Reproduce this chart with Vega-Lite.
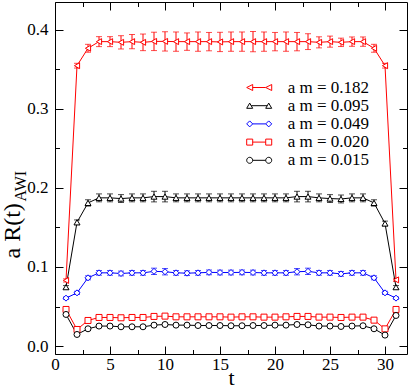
{
"$schema": "https://vega.github.io/schema/vega-lite/v6.json",
"width": 352, "height": 352,
"autosize": {"type": "none"},
"padding": {"left": 55, "top": 2, "right": 2, "bottom": 35},
"background": "white",
"config": {
  "view": {"stroke": null},
  "font": "Times New Roman",
  "axis": {"domainColor": "black", "tickColor": "black", "labelColor": "black", "titleColor": "black", "grid": false,
           "labelFont": "Times New Roman", "titleFont": "Times New Roman", "titleFontWeight": "normal",
           "domainWidth": 1, "tickWidth": 1, "labelFlush": false, "labelOverlap": false, "labelBound": false}
},
"data": {"values": [
{"am":"0.182","t":1,"v":0.083,"e":0.002},{"am":"0.182","t":2,"v":0.3545,"e":0.003},{"am":"0.182","t":3,"v":0.3765,"e":0.005},{"am":"0.182","t":4,"v":0.3849,"e":0.0063},{"am":"0.182","t":5,"v":0.3849,"e":0.0063},{"am":"0.182","t":6,"v":0.384,"e":0.0084},{"am":"0.182","t":7,"v":0.3849,"e":0.009},{"am":"0.182","t":8,"v":0.384,"e":0.0105},{"am":"0.182","t":9,"v":0.3852,"e":0.0116},{"am":"0.182","t":10,"v":0.3852,"e":0.0122},{"am":"0.182","t":11,"v":0.3849,"e":0.0122},{"am":"0.182","t":12,"v":0.3849,"e":0.011},{"am":"0.182","t":13,"v":0.3849,"e":0.0122},{"am":"0.182","t":14,"v":0.3849,"e":0.0116},{"am":"0.182","t":15,"v":0.3845,"e":0.0122},{"am":"0.182","t":16,"v":0.3849,"e":0.0122},{"am":"0.182","t":17,"v":0.3849,"e":0.0122},{"am":"0.182","t":18,"v":0.3849,"e":0.0128},{"am":"0.182","t":19,"v":0.3849,"e":0.0122},{"am":"0.182","t":20,"v":0.3849,"e":0.0116},{"am":"0.182","t":21,"v":0.3849,"e":0.0122},{"am":"0.182","t":22,"v":0.3849,"e":0.0116},{"am":"0.182","t":23,"v":0.3849,"e":0.01},{"am":"0.182","t":24,"v":0.384,"e":0.007},{"am":"0.182","t":25,"v":0.3849,"e":0.007},{"am":"0.182","t":26,"v":0.384,"e":0.0053},{"am":"0.182","t":27,"v":0.3849,"e":0.0059},{"am":"0.182","t":28,"v":0.3849,"e":0.0059},{"am":"0.182","t":29,"v":0.3765,"e":0.005},{"am":"0.182","t":30,"v":0.3545,"e":0.003},{"am":"0.182","t":31,"v":0.0837,"e":0.002},
{"am":"0.095","t":1,"v":0.0745,"e":0.002},{"am":"0.095","t":2,"v":0.1565,"e":0.003},{"am":"0.095","t":3,"v":0.181,"e":0.004},{"am":"0.095","t":4,"v":0.1874,"e":0.005},{"am":"0.095","t":5,"v":0.1874,"e":0.005},{"am":"0.095","t":6,"v":0.1865,"e":0.005},{"am":"0.095","t":7,"v":0.1874,"e":0.005},{"am":"0.095","t":8,"v":0.1874,"e":0.005},{"am":"0.095","t":9,"v":0.189,"e":0.0067},{"am":"0.095","t":10,"v":0.189,"e":0.0067},{"am":"0.095","t":11,"v":0.1874,"e":0.005},{"am":"0.095","t":12,"v":0.1874,"e":0.005},{"am":"0.095","t":13,"v":0.1874,"e":0.005},{"am":"0.095","t":14,"v":0.1874,"e":0.005},{"am":"0.095","t":15,"v":0.1874,"e":0.005},{"am":"0.095","t":16,"v":0.1874,"e":0.005},{"am":"0.095","t":17,"v":0.1874,"e":0.005},{"am":"0.095","t":18,"v":0.1874,"e":0.005},{"am":"0.095","t":19,"v":0.1874,"e":0.005},{"am":"0.095","t":20,"v":0.1874,"e":0.005},{"am":"0.095","t":21,"v":0.1874,"e":0.005},{"am":"0.095","t":22,"v":0.189,"e":0.0067},{"am":"0.095","t":23,"v":0.189,"e":0.0067},{"am":"0.095","t":24,"v":0.1874,"e":0.005},{"am":"0.095","t":25,"v":0.1865,"e":0.005},{"am":"0.095","t":26,"v":0.186,"e":0.005},{"am":"0.095","t":27,"v":0.1874,"e":0.005},{"am":"0.095","t":28,"v":0.1874,"e":0.005},{"am":"0.095","t":29,"v":0.181,"e":0.004},{"am":"0.095","t":30,"v":0.155,"e":0.003},{"am":"0.095","t":31,"v":0.0745,"e":0.002},
{"am":"0.049","t":1,"v":0.0606,"e":0.0015},{"am":"0.049","t":2,"v":0.0673,"e":0.002},{"am":"0.049","t":3,"v":0.0863,"e":0.0025},{"am":"0.049","t":4,"v":0.0926,"e":0.003},{"am":"0.049","t":5,"v":0.0926,"e":0.003},{"am":"0.049","t":6,"v":0.0918,"e":0.003},{"am":"0.049","t":7,"v":0.0926,"e":0.003},{"am":"0.049","t":8,"v":0.0926,"e":0.003},{"am":"0.049","t":9,"v":0.0945,"e":0.004},{"am":"0.049","t":10,"v":0.094,"e":0.004},{"am":"0.049","t":11,"v":0.0926,"e":0.003},{"am":"0.049","t":12,"v":0.0922,"e":0.003},{"am":"0.049","t":13,"v":0.0926,"e":0.003},{"am":"0.049","t":14,"v":0.0932,"e":0.003},{"am":"0.049","t":15,"v":0.093,"e":0.003},{"am":"0.049","t":16,"v":0.093,"e":0.003},{"am":"0.049","t":17,"v":0.0932,"e":0.003},{"am":"0.049","t":18,"v":0.093,"e":0.003},{"am":"0.049","t":19,"v":0.0926,"e":0.003},{"am":"0.049","t":20,"v":0.0926,"e":0.003},{"am":"0.049","t":21,"v":0.0926,"e":0.003},{"am":"0.049","t":22,"v":0.094,"e":0.004},{"am":"0.049","t":23,"v":0.0945,"e":0.004},{"am":"0.049","t":24,"v":0.0926,"e":0.003},{"am":"0.049","t":25,"v":0.0926,"e":0.003},{"am":"0.049","t":26,"v":0.0913,"e":0.003},{"am":"0.049","t":27,"v":0.0926,"e":0.003},{"am":"0.049","t":28,"v":0.0926,"e":0.003},{"am":"0.049","t":29,"v":0.0863,"e":0.0025},{"am":"0.049","t":30,"v":0.0673,"e":0.002},{"am":"0.049","t":31,"v":0.0606,"e":0.0015},
{"am":"0.020","t":1,"v":0.0463,"e":0.001},{"am":"0.020","t":2,"v":0.021,"e":0.001},{"am":"0.020","t":3,"v":0.0324,"e":0.0012},{"am":"0.020","t":4,"v":0.0362,"e":0.0015},{"am":"0.020","t":5,"v":0.0362,"e":0.0015},{"am":"0.020","t":6,"v":0.0358,"e":0.0015},{"am":"0.020","t":7,"v":0.0362,"e":0.0015},{"am":"0.020","t":8,"v":0.0362,"e":0.0015},{"am":"0.020","t":9,"v":0.0375,"e":0.0018},{"am":"0.020","t":10,"v":0.0379,"e":0.0018},{"am":"0.020","t":11,"v":0.037,"e":0.0015},{"am":"0.020","t":12,"v":0.037,"e":0.0015},{"am":"0.020","t":13,"v":0.037,"e":0.0015},{"am":"0.020","t":14,"v":0.037,"e":0.0015},{"am":"0.020","t":15,"v":0.037,"e":0.0015},{"am":"0.020","t":16,"v":0.0366,"e":0.0015},{"am":"0.020","t":17,"v":0.037,"e":0.0015},{"am":"0.020","t":18,"v":0.037,"e":0.0015},{"am":"0.020","t":19,"v":0.0366,"e":0.0015},{"am":"0.020","t":20,"v":0.0366,"e":0.0015},{"am":"0.020","t":21,"v":0.037,"e":0.0015},{"am":"0.020","t":22,"v":0.0375,"e":0.0018},{"am":"0.020","t":23,"v":0.0375,"e":0.0018},{"am":"0.020","t":24,"v":0.0366,"e":0.0015},{"am":"0.020","t":25,"v":0.0366,"e":0.0015},{"am":"0.020","t":26,"v":0.0362,"e":0.0015},{"am":"0.020","t":27,"v":0.0366,"e":0.0015},{"am":"0.020","t":28,"v":0.0366,"e":0.0015},{"am":"0.020","t":29,"v":0.0328,"e":0.0012},{"am":"0.020","t":30,"v":0.0218,"e":0.001},{"am":"0.020","t":31,"v":0.0463,"e":0.001},
{"am":"0.015","t":1,"v":0.04,"e":0.0015},{"am":"0.015","t":2,"v":0.0147,"e":0.001},{"am":"0.015","t":3,"v":0.0219,"e":0.0012},{"am":"0.015","t":4,"v":0.0253,"e":0.0015},{"am":"0.015","t":5,"v":0.0253,"e":0.0015},{"am":"0.015","t":6,"v":0.0244,"e":0.0015},{"am":"0.015","t":7,"v":0.0244,"e":0.0015},{"am":"0.015","t":8,"v":0.0244,"e":0.0015},{"am":"0.015","t":9,"v":0.0265,"e":0.0018},{"am":"0.015","t":10,"v":0.0273,"e":0.0018},{"am":"0.015","t":11,"v":0.0265,"e":0.0015},{"am":"0.015","t":12,"v":0.0265,"e":0.0015},{"am":"0.015","t":13,"v":0.026,"e":0.0015},{"am":"0.015","t":14,"v":0.026,"e":0.0015},{"am":"0.015","t":15,"v":0.026,"e":0.0015},{"am":"0.015","t":16,"v":0.0257,"e":0.0015},{"am":"0.015","t":17,"v":0.0257,"e":0.0015},{"am":"0.015","t":18,"v":0.026,"e":0.0015},{"am":"0.015","t":19,"v":0.026,"e":0.0015},{"am":"0.015","t":20,"v":0.0265,"e":0.0015},{"am":"0.015","t":21,"v":0.0265,"e":0.0015},{"am":"0.015","t":22,"v":0.0273,"e":0.0018},{"am":"0.015","t":23,"v":0.0269,"e":0.0018},{"am":"0.015","t":24,"v":0.0253,"e":0.0015},{"am":"0.015","t":25,"v":0.0253,"e":0.0015},{"am":"0.015","t":26,"v":0.0248,"e":0.0015},{"am":"0.015","t":27,"v":0.0253,"e":0.0015},{"am":"0.015","t":28,"v":0.0257,"e":0.0015},{"am":"0.015","t":29,"v":0.0219,"e":0.0012},{"am":"0.015","t":30,"v":0.0139,"e":0.001},{"am":"0.015","t":31,"v":0.0387,"e":0.0015}
]},
"layer": [
  {
    "mark": {"type": "errorbar", "ticks": {"size": 6}, "thickness": 1},
    "encoding": {
      "x": {"field": "t", "type": "quantitative", "scale": {"domain": [0, 32], "nice": false, "zero": false},
            "axis": {"orient": "bottom", "values": [0,5,10,15,20,25,30], "tickSize": -8, "labelPadding": 10, "labelFontSize": 17,
                     "title": "t", "titleFontSize": 22, "titleBaseline": "alphabetic", "titleY": 30}},
      "y": {"field": "v", "type": "quantitative", "scale": {"domain": [-0.01, 0.435], "nice": false, "zero": false},
            "axis": {"orient": "left", "values": [0,0.1,0.2,0.3,0.4], "format": ".1f", "tickSize": -8, "labelPadding": 15, "labelFontSize": 17,
                     "title": "a R(t)", "titleFontSize": 24, "titleAngle": -90, "titleAlign": "left", "titleBaseline": "alphabetic", "titleX": -36, "titleY": 256}},
      "yError": {"field": "e"},
      "color": {"field": "am", "type": "nominal", "scale": {"domain": ["0.182","0.095","0.049","0.020","0.015"], "range": ["#ff0000","#000000","#0000ff","#ff0000","#000000"]}, "legend": null}
    }
  },
  {
    "mark": {"type": "line", "strokeWidth": 1},
    "encoding": {
      "x": {"field": "t", "type": "quantitative",
            "axis": {"orient": "bottom", "values": [2.5,7.5,12.5,17.5,22.5,27.5], "tickSize": -4.5, "labels": false, "domain": false, "title": null}},
      "y": {"field": "v", "type": "quantitative",
            "axis": {"orient": "left", "values": [0.05,0.15,0.25,0.35], "tickSize": -4.5, "labels": false, "domain": false,
                     "title": "AWI", "titleFontSize": 16, "titleAngle": -90, "titleAlign": "left", "titleBaseline": "alphabetic", "titleX": -30, "titleY": 199}},
      "color": {"field": "am", "type": "nominal", "scale": {"domain": ["0.182","0.095","0.049","0.020","0.015"], "range": ["#ff0000","#000000","#0000ff","#ff0000","#000000"]}, "legend": null}
    }
  },
  {
    "mark": {"type": "point", "filled": false, "fill": "white", "size": 36, "strokeWidth": 1, "opacity": 1},
    "encoding": {
      "x": {"field": "t", "type": "quantitative",
            "axis": {"orient": "top", "values": [0,5,10,15,20,25,30], "tickSize": -8, "labels": false, "title": null}},
      "y": {"field": "v", "type": "quantitative",
            "axis": {"orient": "right", "values": [0,0.1,0.2,0.3,0.4], "tickSize": -8, "labels": false, "title": null}},
      "shape": {"field": "am", "type": "nominal", "scale": {"domain": ["0.182","0.095","0.049","0.020","0.015"], "range": ["triangle-left","triangle-up","diamond","square","circle"]}, "legend": null},
      "color": {"field": "am", "type": "nominal", "scale": {"domain": ["0.182","0.095","0.049","0.020","0.015"], "range": ["#ff0000","#000000","#0000ff","#ff0000","#000000"]}, "legend": null}
    }
  },
  {
    "transform": [{"filter": "datum.t < 0"}],
    "mark": {"type": "point", "filled": false, "fill": "white", "size": 36, "strokeWidth": 1, "opacity": 1},
    "encoding": {
      "x": {"field": "t", "type": "quantitative",
            "axis": {"orient": "top", "values": [2.5,7.5,12.5,17.5,22.5,27.5], "tickSize": -4.5, "labels": false, "domain": false, "title": null}},
      "y": {"field": "v", "type": "quantitative",
            "axis": {"orient": "right", "values": [0.05,0.15,0.25,0.35], "tickSize": -4.5, "labels": false, "domain": false, "title": null}},
      "shape": {"field": "am", "type": "nominal",
                "scale": {"domain": ["0.182","0.095","0.049","0.020","0.015"],
                          "range": ["M-4.17,0L-2.17,-1L-2.17,1Z M-2.17,0L2.17,0 M2.17,0L4.17,-1L4.17,1Z",
                                    "M-3.17,-0.87L-4.17,0.87L-2.17,0.87Z M-2.67,0L2.67,0 M3.17,-0.87L2.17,0.87L4.17,0.87Z",
                                    "M-4.17,0L-3.17,-1L-2.17,0L-3.17,1Z M-2.17,0L2.17,0 M2.17,0L3.17,-1L4.17,0L3.17,1Z",
                                    "M-4.17,-1H-2.17V1H-4.17Z M-2.17,0L2.17,0 M2.17,-1H4.17V1H2.17Z",
                                    "M-2.17,0C-2.17,0.552 -2.618,1 -3.17,1C-3.722,1 -4.17,0.552 -4.17,0C-4.17,-0.552 -3.722,-1 -3.17,-1C-2.618,-1 -2.17,-0.552 -2.17,0Z M-2.17,0L2.17,0 M4.17,0C4.17,0.552 3.722,1 3.17,1C2.618,1 2.17,0.552 2.17,0C2.17,-0.552 2.618,-1 3.17,-1C3.722,-1 4.17,-0.552 4.17,0Z"]},
                "legend": {"orient": "none", "legendX": 195.7, "legendY": 77, "title": null, "labelExpr": "'a m = ' + datum.label",
                           "labelFont": "Times New Roman", "labelFontSize": 17, "labelColor": "black", "symbolSize": 36, "symbolStrokeWidth": 1,
                           "symbolFillColor": "white", "labelOffset": 20, "rowPadding": 0.2, "padding": 0, "symbolOpacity": 1}},
      "color": {"field": "am", "type": "nominal", "scale": {"domain": ["0.182","0.095","0.049","0.020","0.015"], "range": ["#ff0000","#000000","#0000ff","#ff0000","#000000"]},
                "legend": {"orient": "none", "legendX": 195.7, "legendY": 77, "title": null, "labelExpr": "'a m = ' + datum.label",
                           "labelFont": "Times New Roman", "labelFontSize": 17, "labelColor": "black", "symbolSize": 36, "symbolStrokeWidth": 1,
                           "symbolFillColor": "white", "labelOffset": 20, "rowPadding": 0.2, "padding": 0, "symbolOpacity": 1}}
    }
  }
],
"resolve": {"axis": {"x": "independent", "y": "independent"}, "scale": {"color": "independent", "shape": "independent"}}
}
